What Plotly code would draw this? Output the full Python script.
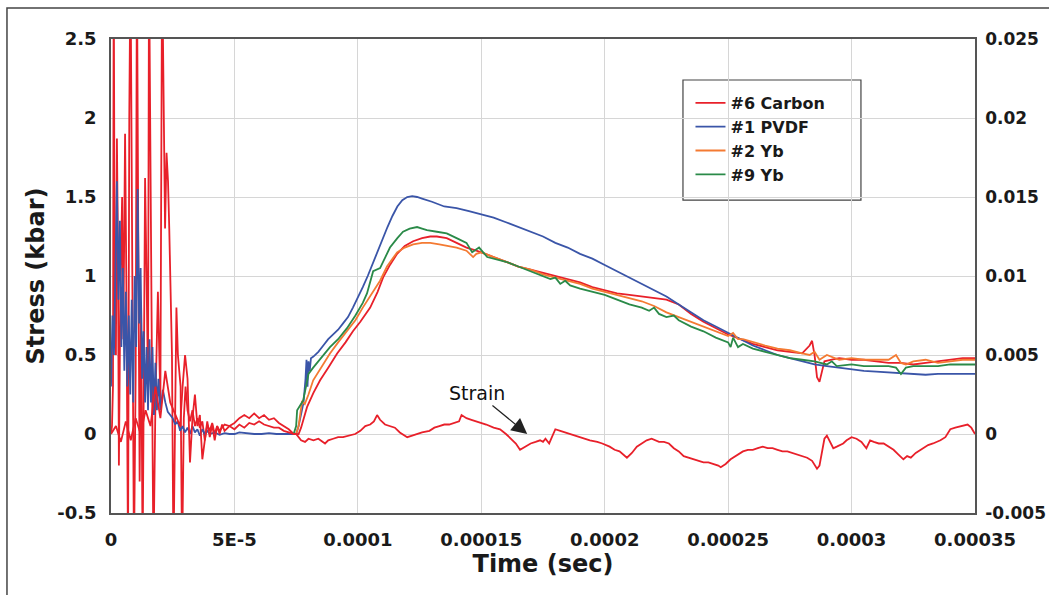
import plotly.graph_objects as go

# ---------------- data (time in microseconds, stress in kbar, strain dimensionless) ----------------
t_carbon = [0, 0.4, 0.8, 1.1, 1.5, 2.0, 2.4, 2.8, 3.2, 3.8, 4.5, 5.0, 5.7, 6.2, 6.9, 7.4, 7.9, 8.5, 9.3,
            10.0, 10.5, 11.0, 11.6, 12.2, 12.8, 13.4, 13.8, 14.4, 15.0, 15.4, 16.0, 16.6, 17.2, 18.0, 19.0,
            20.0, 20.7, 21.3, 21.9, 22.5, 23.1, 23.6, 24.1, 24.7, 25.3, 25.9, 26.5, 27.1, 28.2, 28.8, 29.5,
            30.2, 31.0, 32.0, 33.0, 34.0, 35, 36, 37, 38, 39, 40, 41, 42, 43, 44, 46, 48, 50, 52, 54, 56,
            58, 60, 62, 64, 66, 68, 70, 72, 74, 76, 77, 78, 79.4, 82, 84.7, 88, 91.6, 95, 98, 101, 105, 108,
            110.2, 113, 115.9, 119, 122.4, 126, 129.3, 132, 136, 140, 144, 148, 150,
            155, 160, 165, 170, 175, 180, 185, 190, 195, 200, 205, 210, 215, 220, 225, 230, 235, 240, 245,
            250, 255, 260, 265, 270, 275, 280, 283, 284, 285, 286, 287, 288, 289, 292, 295, 300, 305, 310,
            315, 320, 325, 330, 335, 340, 345, 350]
s_carbon = [0.0, 0.05, 0.3, 3.0, 0.9, 0.5, 1.87, 1.2, -0.2, 0.9, 1.5, 0.6, 1.9, 1.0, -0.8, 2.0, 3.0, 1.1, -0.8,
            0.4, 3.0, 1.4, -0.3, 0.8, -0.8, 0.6, 1.62, 1.0, 0.3, 3.0, 1.3, 0.4, -0.8, 0.2, 0.9,
            0.2, 3.0, 2.3, 1.3, 1.78, 1.6, 1.3, 0.8, 0.5, -0.8, 0.2, 0.8, 0.5, 0.3, -0.8, 0.1,
            0.3, 0.15, 0.08, 0.15, 0.05, 0.1, 0.04, 0.08, -0.04, 0.06, 0.02, 0.07, 0.0, 0.05, 0.02, 0.06, 0.05,
            0.07, 0.1, 0.12, 0.1, 0.13, 0.1, 0.12, 0.09, 0.1, 0.07, 0.05, 0.03, 0.0, 0.0, 0.04, 0.1, 0.17,
            0.26, 0.34, 0.42, 0.51, 0.58, 0.65, 0.71, 0.8, 0.9, 0.99, 1.07, 1.14, 1.19, 1.22, 1.24, 1.25,
            1.25, 1.24, 1.21, 1.18, 1.16, 1.15,
            1.12, 1.09, 1.06, 1.04, 1.02, 1.0, 0.98, 0.96, 0.93, 0.91, 0.89, 0.88, 0.87, 0.86, 0.85, 0.82,
            0.76, 0.71, 0.67, 0.63, 0.6, 0.57, 0.55, 0.53, 0.52, 0.51, 0.56, 0.59, 0.5, 0.36, 0.33, 0.4, 0.46,
            0.47, 0.48, 0.47, 0.47, 0.46, 0.45, 0.45, 0.44, 0.45, 0.46, 0.47, 0.48, 0.48]

t_pvdf = [0, 0.6, 1.2, 1.8, 2.4, 3.0, 3.6, 4.2, 4.8, 5.4, 6.0, 6.6, 7.2, 7.8, 8.4, 9.0, 9.6, 10.2, 10.8,
          11.4, 12.0, 12.6, 13.2, 13.8, 14.4, 15.0, 15.6, 16.2, 16.8, 17.4, 18.0, 18.6, 19.2, 20, 21, 22,
          23, 24, 25, 26, 27, 28, 29, 30, 31, 32, 33, 34, 35, 36, 37, 38, 39, 40, 42, 44, 46, 48, 50, 52,
          55, 58, 61, 64, 67, 70, 72, 74, 75, 76, 77, 78, 78.8, 79.2, 79.6, 80.0, 80.5, 81, 82, 84, 86, 88,
          90, 92, 94, 96, 98, 100, 102, 104, 106, 108, 110, 112, 114, 116, 118, 120, 122, 124, 126, 128,
          130, 135, 140, 145, 150, 155, 160, 165, 170, 175, 180, 185, 190, 195, 200, 205, 210, 215, 220,
          225, 230, 235, 240, 245, 250, 255, 260, 265, 270, 275, 280, 285, 290, 295, 300, 305, 310, 315,
          320, 325, 330, 335, 340, 345, 350]
s_pvdf = [0.3, 0.75, 0.5, 0.95, 1.6, 0.85, 1.35, 0.55, 1.05, 0.4, 0.9, 0.3, 0.75, 0.25, 0.85, 0.2, 1.0,
          0.55, 1.55, 0.7, 1.05, 0.35, 0.65, 0.2, 0.55, 0.15, 0.6, 0.2, 0.55, 0.12, 0.45, 0.15, 0.35, 0.15,
          0.28, 0.2, 0.14, 0.12, 0.1, 0.06, 0.08, 0.02, 0.05, 0.01, 0.04, 0.0, 0.05, 0.01, 0.03, -0.01, 0.03,
          0.0, 0.02, 0.0, 0.01, -0.005, 0.005, 0.0, 0.0, 0.01, 0.005, 0.0, 0.0, 0.005, 0.0, 0.0, 0.0, 0.0,
          0.0, 0.05, 0.12, 0.2, 0.35, 0.47, 0.3, 0.46, 0.4, 0.48, 0.49, 0.52, 0.56, 0.6,
          0.63, 0.66, 0.7, 0.74, 0.8, 0.86, 0.93, 1.0, 1.08, 1.15, 1.23, 1.31, 1.38, 1.44, 1.48, 1.5, 1.505,
          1.5, 1.49, 1.48, 1.47, 1.44, 1.43, 1.41, 1.39, 1.37, 1.34, 1.31, 1.28, 1.25, 1.21, 1.18, 1.14,
          1.11, 1.07, 1.03, 0.99, 0.95, 0.91, 0.87, 0.82, 0.77, 0.72, 0.68, 0.64, 0.6, 0.56, 0.53, 0.5,
          0.48, 0.46, 0.44, 0.43, 0.42, 0.41, 0.4, 0.395, 0.39, 0.385, 0.38, 0.375, 0.38, 0.38, 0.38, 0.38]

t_yb2 = [74, 75, 76, 77, 77.4, 78.5, 80, 81.9, 85, 88.7, 92, 95.6, 99, 102, 105, 109, 111.8, 114, 115.9,
         119, 122.4, 126, 129.3, 133, 136, 140, 144, 146.7, 148, 150, 155, 160, 165, 170, 175,
         180, 185, 190, 195, 200, 205, 210, 215, 220, 225, 230, 235, 240, 245, 250, 252, 254, 256, 260, 265,
         270, 275, 280, 283, 285, 287, 290, 292, 295, 300, 305, 310, 315, 318, 320, 322, 325, 330, 335, 340,
         345, 350]
s_yb2 = [0.0, 0.0, 0.05, 0.18, 0.21, 0.19, 0.25, 0.34, 0.42, 0.51, 0.58, 0.65, 0.72, 0.8, 0.87, 0.97, 1.06,
         1.11, 1.15, 1.18, 1.2, 1.21, 1.21, 1.2, 1.19, 1.18, 1.16, 1.12, 1.14, 1.15, 1.12, 1.09, 1.06, 1.04,
         1.01, 0.99, 0.97, 0.95, 0.92, 0.9, 0.88, 0.86, 0.84, 0.81,
         0.77, 0.74, 0.71, 0.68, 0.65, 0.62, 0.64, 0.6, 0.6, 0.58, 0.56, 0.54, 0.53, 0.51, 0.5, 0.52, 0.47,
         0.5, 0.49, 0.47, 0.48, 0.47, 0.47, 0.47, 0.5, 0.45, 0.44, 0.46, 0.47, 0.45, 0.46, 0.47, 0.47]

t_yb9 = [74, 75, 75.4, 77.8, 79, 80, 81.9, 84, 86, 88.7, 92, 95.6, 99, 102, 103.7, 105, 106.2, 109, 111,
         113, 116, 118.3, 121, 124, 126, 128, 132, 136, 140, 144, 146.3, 149.1, 152.4, 155,
         160, 165, 170, 175, 178, 180, 182, 184, 186, 190, 195, 200, 205, 210, 215, 218, 220, 222, 225, 228,
         230, 235, 240, 245, 250, 251, 252, 254, 256, 260, 265, 270, 275, 280, 285, 290, 292, 294, 300, 305,
         310, 315, 318, 320, 322, 325, 330, 335, 340, 345, 350]
s_yb9 = [0.0, 0.05, 0.15, 0.21, 0.3, 0.38, 0.42, 0.46, 0.5, 0.55, 0.6, 0.67, 0.75, 0.83, 0.89, 0.96, 1.03,
         1.05, 1.12, 1.18, 1.24, 1.28, 1.3, 1.31, 1.3, 1.29, 1.28, 1.27, 1.24, 1.21, 1.15, 1.18, 1.12, 1.11,
         1.09, 1.06, 1.03, 1.0, 0.98, 0.99, 0.95, 0.97,
         0.94, 0.92, 0.9, 0.88, 0.85, 0.82, 0.8, 0.78, 0.8, 0.76, 0.74, 0.75, 0.72, 0.68, 0.65, 0.61, 0.58,
         0.55, 0.61, 0.55, 0.57, 0.54, 0.52, 0.5, 0.48, 0.47, 0.46, 0.44, 0.46, 0.43, 0.44, 0.43, 0.43, 0.43,
         0.42, 0.38, 0.42, 0.43, 0.43, 0.43, 0.44, 0.44, 0.44]

t_strain = [0, 2, 4, 6, 8, 10, 12, 14, 16, 18, 20, 22, 24, 26, 28, 29, 30, 31, 32, 33, 34, 35, 36, 37, 38,
            39, 40, 41, 42, 43, 44, 45, 46, 48, 50, 52, 54, 56, 58, 60, 62, 64, 66, 68, 70, 72, 74, 75, 76,
            77, 78.6, 80, 82, 84, 86.7, 88, 90, 92, 94, 96, 98.9, 101, 103, 105, 106.5, 107.8, 109, 111, 113,
            115, 117, 120, 122, 124, 126, 129, 131, 133, 135, 137, 139, 141, 142, 144, 146, 148, 149.5, 152,
            155, 157.6, 160, 162, 164, 165.7, 168, 170, 172, 173.8, 175, 176, 177.5, 179, 180, 182, 184, 186,
            188, 190, 192, 194, 197, 199, 202, 204, 206, 209, 211, 213, 215, 217, 219, 222, 224, 226, 228,
            230, 232, 234, 236, 238, 240, 242, 244, 246, 247, 249, 251, 254, 256, 258, 260, 262, 264, 266,
            268, 270, 272, 274, 276, 278, 280, 282, 284, 286, 287, 288, 289, 290, 291, 292.6, 294, 296.6,
            298, 300, 302, 304, 306, 307.5, 309, 311, 313, 315, 317, 319, 321, 322.5, 324, 326, 329, 331,
            333, 336, 338, 340, 342, 344, 347, 348.5, 350]
e_strain = [0.0, 0.0005, -0.0005, 0.0008, -0.0004, 0.001, 0.0, 0.0015, 0.0005, 0.003, 0.001, 0.004, 0.002,
            0.0012, 0.0005, 0.003, 0.005, 0.0035, -0.0018, 0.001, 0.0025, 0.0005, 0.0012, -0.0016, -0.0005,
            0.0008, -0.0002, 0.0006, -0.0004, 0.0005, 0.0, 0.0006, 0.0002, 0.0005, 0.0003, 0.0006, 0.0004,
            0.0007, 0.0006, 0.0008, 0.0006, 0.0005, 0.0004, 0.0004, 0.0002, 0.0001, 0.0, 0.0, -0.0002,
            -0.0004, -0.0005, -0.0003, -0.0004, -0.0003, -0.0006, -0.0004, -0.0003, -0.0002, -0.0002,
            -0.0001, 0.0, 0.0002, 0.0005, 0.0006, 0.0008, 0.0012, 0.0009, 0.0006, 0.0005, 0.0004, 0.0001,
            -0.0002, -0.0001, 0.0, 0.0001, 0.0002, 0.0004, 0.0005, 0.0006, 0.0006, 0.0007, 0.0008, 0.0012,
            0.001, 0.0009, 0.0008, 0.0007, 0.0006, 0.0004, 0.0003, 0.0, -0.0003, -0.0006, -0.001, -0.0008,
            -0.0006, -0.0005, -0.0004, -0.0005, -0.0003, -0.0006, 0.0, 0.0003, 0.0002, 0.0001, 0.0, -0.0001,
            -0.0002, -0.0003, -0.0004, -0.0005, -0.0006, -0.0008, -0.001, -0.0011, -0.0015, -0.0012,
            -0.0008, -0.0006, -0.0004, -0.0003, -0.0005, -0.0005, -0.0006, -0.0009, -0.0011, -0.0014,
            -0.0015, -0.0016, -0.0017, -0.0018, -0.0018, -0.0019, -0.002, -0.0021, -0.0019, -0.0016,
            -0.0013, -0.0011, -0.001, -0.001, -0.0009, -0.0008, -0.0009, -0.0009, -0.001, -0.0011, -0.0011,
            -0.0012, -0.0013, -0.0014, -0.0015, -0.0017, -0.0022, -0.002, -0.001, -0.0003, -0.0001, -0.0004,
            -0.0009, -0.0008, -0.0006, -0.0004, -0.0002, -0.0003, -0.0005, -0.0009, -0.0004, -0.0005,
            -0.0006, -0.0006, -0.0008, -0.001, -0.0013, -0.0016, -0.0014, -0.0015, -0.0012, -0.0009,
            -0.0007, -0.0006, -0.0004, -0.0002, 0.0003, 0.0004, 0.0005, 0.0006, 0.0004, 0.0]

x_tickvals = [0, 5e-5, 1e-4, 1.5e-4, 2e-4, 2.5e-4, 3e-4, 3.5e-4]
x_ticktext = ["0", "5E-5", "0.0001", "0.00015", "0.0002", "0.00025", "0.0003", "0.00035"]
y_tickvals = [-0.5, 0, 0.5, 1, 1.5, 2, 2.5]
y_ticktext = ["-0.5", "0", "0.5", "1", "1.5", "2", "2.5"]
y2_tickvals = [-0.005, 0, 0.005, 0.01, 0.015, 0.02, 0.025]
y2_ticktext = ["-0.005", "0", "0.005", "0.01", "0.015", "0.02", "0.025"]

US = 1e-6  # microseconds -> seconds

def sec(ts):
    return [v * US for v in ts]

RED = "#e8202a"
BLUE = "#3a55a8"
ORANGE = "#f47a32"
GREEN = "#2a8a48"
FONT = "DejaVu Sans"

fig = go.Figure()
fig.add_trace(go.Scatter(x=sec(t_carbon), y=s_carbon, mode="lines", name="#6 Carbon",
                         line=dict(color=RED, width=1.8)))
fig.add_trace(go.Scatter(x=sec(t_pvdf), y=s_pvdf, mode="lines", name="#1 PVDF",
                         line=dict(color=BLUE, width=1.8)))
fig.add_trace(go.Scatter(x=sec(t_yb2), y=s_yb2, mode="lines", name="#2 Yb",
                         line=dict(color=ORANGE, width=1.8)))
fig.add_trace(go.Scatter(x=sec(t_yb9), y=s_yb9, mode="lines", name="#9 Yb",
                         line=dict(color=GREEN, width=1.8)))
fig.add_trace(go.Scatter(x=sec(t_strain), y=e_strain, mode="lines", name="Strain", yaxis="y2",
                         showlegend=False, line=dict(color=RED, width=1.8)))

tickfont = dict(family=FONT, size=18, color="#1a1a1a", weight="bold")
tickfont_r = dict(family=FONT, size=17, color="#1a1a1a", weight="bold")

fig.update_layout(
    width=1049, height=595,
    margin=dict(l=111, r=74, t=39, b=82, autoexpand=False),
    paper_bgcolor="white", plot_bgcolor="white",
    showlegend=True,
    xaxis=dict(range=[0, 3.5e-4], tickvals=x_tickvals, ticktext=x_ticktext, automargin=False,
               showgrid=True, gridcolor="#d6d6d6", gridwidth=1,
               showline=True, linecolor="#555", linewidth=1.5, mirror=True,
               zeroline=False, ticks="", tickfont=tickfont, ticklabelstandoff=10,
               title=dict(text="Time (sec)", standoff=6,
                          font=dict(family=FONT, size=24, color="#1a1a1a", weight="bold"))),
    yaxis=dict(range=[-0.5, 2.5], tickvals=y_tickvals, ticktext=y_ticktext, automargin=False,
               showgrid=True, gridcolor="#d6d6d6", gridwidth=1,
               showline=True, linecolor="#555", linewidth=1.5, mirror=True,
               zeroline=False, ticks="", tickfont=tickfont, ticklabelstandoff=9,
               title=dict(text="Stress (kbar)", standoff=6,
                          font=dict(family=FONT, size=24, color="#1a1a1a", weight="bold"))),
    yaxis2=dict(range=[-0.005, 0.025], tickvals=y2_tickvals, ticktext=y2_ticktext,
                overlaying="y", side="right", showgrid=False, zeroline=False, automargin=False,
                showline=True, linecolor="#555", linewidth=1.5,
                ticks="", tickfont=tickfont_r, ticklabelstandoff=5),
    legend=dict(x=0.6707, y=0.9008, xanchor="left", yanchor="top",
                bgcolor="rgba(255,255,255,0)", borderwidth=0,
                font=dict(family=FONT, size=16, color="#1a1a1a", weight="bold")),
    shapes=[
        # legend frame
        dict(type="rect", xref="paper", yref="paper", x0=0.662, x1=0.868, y0=0.660, y1=0.9135,
             line=dict(color="#444", width=1.2), fillcolor="white", layer="below"),
        # outer chart frame
        dict(type="rect", xref="paper", yref="paper", x0=-0.1204, x1=1.1, y0=-0.25, y1=1.0654,
             line=dict(color="#444", width=1.5), fillcolor="rgba(0,0,0,0)"),
    ],
    annotations=[
        dict(x=1.686e-4, y=0.0, xref="x", yref="y", text="Strain", showarrow=True,
             ax=-50, ay=-41, arrowhead=2, arrowsize=2.6, arrowwidth=1.2, arrowcolor="#222",
             font=dict(family=FONT, size=19, color="#111")),
    ],
)

fig.write_html("out.html")
